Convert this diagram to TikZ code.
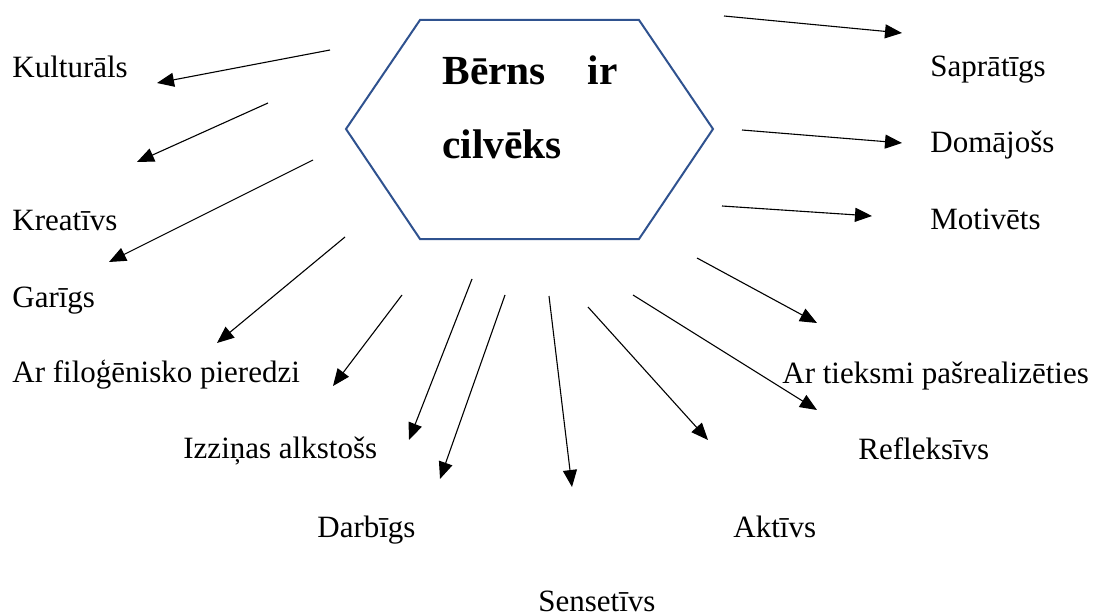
\documentclass[tikz,border=0pt]{standalone}
\usepackage{fontspec}
\setmainfont{Liberation Serif}
\usetikzlibrary{arrows.meta}
\definecolor{hexblue}{RGB}{47,82,143}
\tikzset{
  lbl/.style={anchor=base west, inner sep=0pt, font=\fontsize{15.5}{18}\selectfont},
  ttl/.style={anchor=base west, inner sep=0pt, font=\fontsize{20.7}{24}\selectfont\bfseries},
  arr/.style={draw=black, line width=0.55pt, -{Triangle[length=8.5pt,width=7pt]}},
  hex/.style={draw=hexblue, line width=1pt, line join=miter}
}
\begin{document}
\begin{tikzpicture}[x=0.5pt,y=-0.5pt]
\useasboundingbox (0,0) rectangle (1097,615);
% hexagon
\coordinate (h1) at (420,20);
\coordinate (h2) at (639,20);
\coordinate (h3) at (713,129);
\coordinate (h4) at (639,239);
\coordinate (h5) at (420,239);
\coordinate (h6) at (346,129);
\draw[hex] (h1) -- (h2) -- (h3) -- (h4) -- (h5) -- (h6) -- cycle;
\node[ttl] (t1) at (442,85) {\makebox[87.5pt][l]{Bērns\hfill ir}};
\node[ttl] (t2) at (442,158) {cilvēks};
% labels
\node[lbl] (kult) at (12,78) {Kulturāls};
\node[lbl] (krea) at (12,230) {Kreatīvs};
\node[lbl] (gar) at (12,307) {Garīgs};
\node[lbl] (filo) at (12,382) {Ar filoģēnisko pieredzi};
\node[lbl] (izz) at (183,458) {Izziņas alkstošs};
\node[lbl] (darb) at (317,537) {Darbīgs};
\node[lbl] (sens) at (538,611) {Sensetīvs};
\node[lbl] (akt) at (733,537) {Aktīvs};
\node[lbl] (refl) at (858,459) {Refleksīvs};
\node[lbl] (tiek) at (782,383) {Ar tieksmi pašrealizēties};
\node[lbl] (sapr) at (930,76) {Saprātīgs};
\node[lbl] (dom) at (930,153) {Domājošs};
\node[lbl] (moti) at (930,229) {Motivēts};
% arrow end points
\coordinate (s1) at (330,50);   \coordinate (e1) at (157,83);
\coordinate (s2) at (268,103);  \coordinate (e2) at (137,162);
\coordinate (s3) at (313,160);  \coordinate (e3) at (109,262);
\coordinate (s4) at (345,237);  \coordinate (e4) at (217,343);
\coordinate (s5) at (402,295);  \coordinate (e5) at (333,386);
\coordinate (s6) at (472,279);  \coordinate (e6) at (409,440);
\coordinate (s7) at (505,295);  \coordinate (e7) at (440,479);
\coordinate (s8) at (549,296);  \coordinate (e8) at (572,487);
\coordinate (s9) at (588,307);  \coordinate (e9) at (708,440);
\coordinate (s10) at (633,295); \coordinate (e10) at (817,410);
\coordinate (s11) at (697,258); \coordinate (e11) at (817,323);
\coordinate (s12) at (724,16);  \coordinate (e12) at (902,33);
\coordinate (s13) at (742,130); \coordinate (e13) at (902,143);
\coordinate (s14) at (722,206); \coordinate (e14) at (872,216);
\foreach \i in {1,...,14} { \draw[arr] (s\i) -- (e\i); }
\end{tikzpicture}
\end{document}
